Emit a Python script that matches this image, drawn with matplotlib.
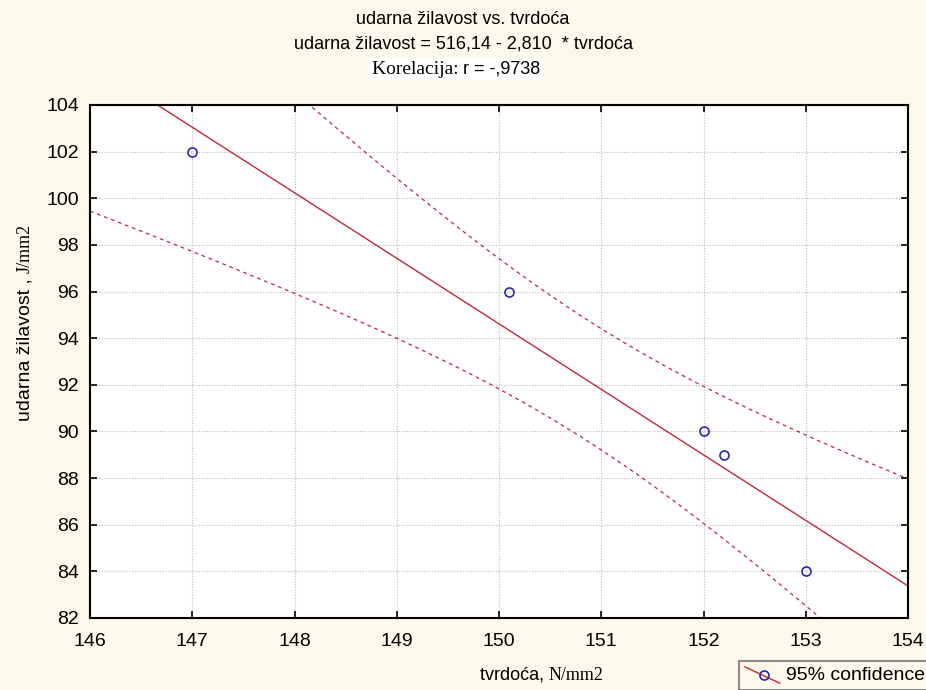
import numpy as np
import matplotlib
matplotlib.use("Agg")
import matplotlib.pyplot as plt
from matplotlib.lines import Line2D
from matplotlib.legend_handler import HandlerBase

# Data
tvrdoca = [147.0, 150.1, 152.0, 152.2, 153.0]
zilavost = [102.0, 96.0, 90.0, 89.0, 84.0]
x_ticks = [146, 147, 148, 149, 150, 151, 152, 153, 154]
y_ticks = [82, 84, 86, 88, 90, 92, 94, 96, 98, 100, 102, 104]
t_crit = 3.182  # t(0.975, df=3)

x = np.array(tvrdoca)
y = np.array(zilavost)
n = len(x)
xm, ym = x.mean(), y.mean()
sxx = ((x - xm) ** 2).sum()
slope = ((x - xm) * (y - ym)).sum() / sxx
icpt = ym - slope * xm
resid = y - (icpt + slope * x)
s = np.sqrt((resid ** 2).sum() / (n - 2))

xx = np.linspace(146, 154, 400)
fit = icpt + slope * xx
half = t_crit * s * np.sqrt(1.0 / n + (xx - xm) ** 2 / sxx)

sans = ["Liberation Sans", "DejaVu Sans"]
serif = ["Liberation Serif", "DejaVu Serif"]
red = "#C0283C"
blue = "#2828B4"
bg = "#FCF8EC"

fig = plt.figure(figsize=(9.26, 6.90), dpi=100, facecolor=bg)
ax = fig.add_axes([90 / 926, 1 - 618 / 690, (908 - 90) / 926, (618 - 105) / 690])
ax.set_facecolor("white")

ax.plot(xx, fit, color=red, lw=1.0)
ax.plot(xx, fit + half, color=red, lw=0.9, ls=(0, (3, 3)))
ax.plot(xx, fit - half, color=red, lw=0.9, ls=(0, (3, 3)))
ax.plot(x, y, ls="none", marker="o", ms=6.5, mfc="none", mec=blue, mew=1.2)

ax.set_xlim(146, 154)
ax.set_ylim(82, 104)
ax.set_xticks(x_ticks)
ax.set_yticks(y_ticks)
ax.grid(True, color="#B8B8B8", ls=(0, (1, 1.5)), lw=0.8)
ax.tick_params(direction="in", length=5, width=1.2, top=True, right=True,
               labelsize=14)
ax.tick_params(axis="x", pad=11)
ax.tick_params(axis="y", pad=8)
for lab in ax.get_xticklabels() + ax.get_yticklabels():
    lab.set_family(sans)
for sp in ax.spines.values():
    sp.set_linewidth(1.5)
    sp.set_color("black")

# Titles
fig.text(0.5, 1 - 20 / 690, "udarna žilavost vs. tvrdoća", ha="center", va="center",
         fontsize=13, family=sans)
fig.text(0.5, 1 - 44 / 690, "udarna žilavost = 516,14 - 2,810  * tvrdoća", ha="center",
         va="center", fontsize=13, family=sans)
fig.text(0.5, 1 - 69 / 690, "Korelacija: ", ha="right", va="center", fontsize=14,
         family=serif, bbox=dict(facecolor="white", edgecolor="none", pad=2))
fig.text(0.5, 1 - 69 / 690, "r = -,9738", ha="left", va="center", fontsize=13,
         family=sans, bbox=dict(facecolor="white", edgecolor="none", pad=2))

# Axis labels (mixed fonts)
fig.text(549 / 926, 1 - 675 / 690, "tvrdoća, ", ha="right", va="center", fontsize=13,
         family=sans)
fig.text(549 / 926, 1 - 675 / 690, "N/mm2", ha="left", va="center", fontsize=13,
         family=serif)
fig.text(25 / 926, 1 - 273 / 690, "udarna žilavost , ", ha="right", va="center",
         rotation=90, rotation_mode="anchor", fontsize=14, family=sans)
fig.text(25 / 926, 1 - 273 / 690, "J/mm2", ha="left", va="center", rotation=90,
         rotation_mode="anchor", fontsize=13, family=serif)


class DiagHandler(HandlerBase):
    def create_artists(self, legend, orig_handle, xdescent, ydescent, width,
                       height, fontsize, trans):
        ln = Line2D([0, width], [height, -2], color=red, lw=1.0,
                    transform=trans)
        mk = Line2D([width * 0.55], [height / 2 - 1], ls="none", marker="o",
                    ms=6.5, mfc="none", mec=blue, mew=1.2, transform=trans)
        return [ln, mk]


handle = Line2D([], [], color=red, lw=1.0, marker="o", ms=6.5, mfc="none",
                mec=blue, mew=1.2)
leg = fig.legend([handle], ["95% confidence"], loc="upper left",
                 bbox_to_anchor=(739 / 926, 1 - 661 / 690), frameon=True,
                 fancybox=False, prop={"family": sans, "size": 14},
                 handlelength=1.8, handletextpad=0.3, borderpad=0.3,
                 borderaxespad=0, edgecolor="#555555",
                 handler_map={Line2D: DiagHandler()})
leg.get_frame().set_facecolor(bg)
leg.get_frame().set_linewidth(1.2)

fig.savefig("out.png", dpi=100, facecolor=bg)
